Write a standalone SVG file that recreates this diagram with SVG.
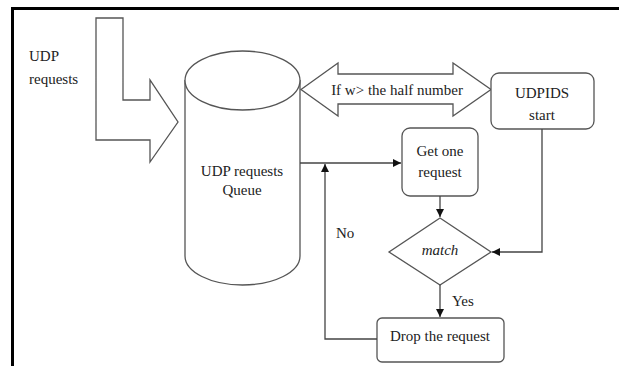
<svg xmlns="http://www.w3.org/2000/svg" width="619" height="366" viewBox="0 0 619 366">
<style>
.s{fill:#fff;stroke:#555;stroke-width:1.3}
.ln{fill:none;stroke:#444;stroke-width:1.3}
text{font-family:"Liberation Serif","Times New Roman",serif;font-size:15px;fill:#222}
.c{text-anchor:middle}
</style>
<defs>
<marker id="ah" viewBox="0 0 10 10" refX="10" refY="5" markerWidth="8" markerHeight="8" markerUnits="userSpaceOnUse" orient="auto">
<path d="M0,0 L10,5 L0,10 z" fill="#111"/>
</marker>
</defs>
<rect width="619" height="366" fill="#fff"/>
<g id="border">
<line x1="12.5" y1="8.5" x2="619" y2="8.5" stroke="#000" stroke-width="3"/>
<line x1="12.5" y1="7" x2="12.5" y2="366" stroke="#000" stroke-width="3"/>
</g>
<g id="udp-input">
<polygon class="s" points="96,18 123,18 123,100 150,100 150,80 178,122 150,162 150,140 96,140"/>
<text x="29" y="61">UDP</text>
<text x="29" y="84">requests</text>
</g>
<g id="queue">
<path class="s" d="M185,80 L185,256 A57.5,29 0 0 0 300,256 L300,80"/>
<ellipse class="s" cx="242.5" cy="80.5" rx="57.5" ry="29.5"/>
<text class="c" x="242" y="176">UDP requests</text>
<text class="c" x="242" y="195">Queue</text>
</g>
<g id="condition">
<polygon class="s" points="301,89.5 338,63 338,74 453,74 453,63 491,89.5 453,116 453,104 338,104 338,116"/>
<text class="c" x="397" y="95">If w&gt; the half number</text>
</g>
<g id="udpids-start">
<rect class="s" x="491" y="73" width="103" height="56" rx="8"/>
<text class="c" x="542" y="98">UDPIDS</text>
<text class="c" x="542" y="120">start</text>
</g>
<g id="get-one">
<rect class="s" x="402" y="128" width="76" height="68" rx="8"/>
<text class="c" x="440" y="156">Get one</text>
<text class="c" x="440" y="177">request</text>
</g>
<g id="match">
<polygon class="s" points="440,218 491,252 440,285 389,252"/>
<text class="c" x="440" y="255" font-style="italic">match</text>
</g>
<g id="drop">
<rect class="s" x="377" y="318" width="127" height="44" rx="5"/>
<text class="c" x="440" y="341">Drop the request</text>
</g>
<g id="connectors">
<line class="ln" x1="300" y1="163" x2="401" y2="163" marker-end="url(#ah)"/>
<polyline class="ln" points="377,339 325,339 325,164" marker-end="url(#ah)"/>
<line class="ln" x1="440" y1="196" x2="440" y2="217" marker-end="url(#ah)"/>
<polyline class="ln" points="542,129 542,252 492,252" marker-end="url(#ah)"/>
<line class="ln" x1="440" y1="285" x2="440" y2="317" marker-end="url(#ah)"/>
<text x="336" y="238">No</text>
<text x="452" y="306">Yes</text>
</g>
</svg>
